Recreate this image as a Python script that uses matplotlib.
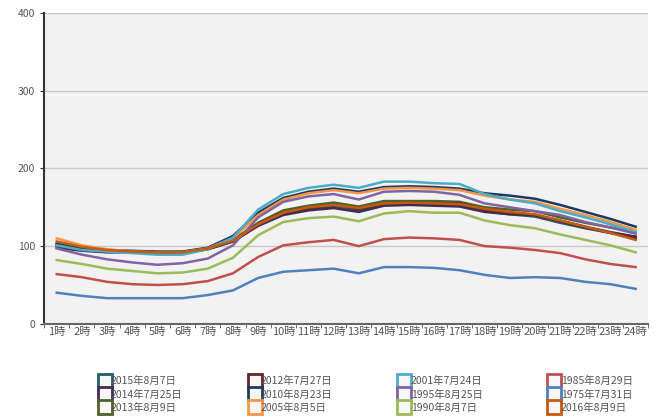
import numpy as np
import matplotlib.pyplot as plt
from matplotlib.lines import Line2D

plt.rcParams['font.family'] = ['Noto Sans CJK JP', 'DejaVu Sans']

# ==========================
# データ
# ==========================
hours = [f"{h}時" for h in range(1, 25)]

s2015 = [102, 96, 94, 93, 92, 91, 96, 106, 127, 142, 148, 150, 146, 153, 154, 153, 152, 145, 141, 138, 130, 123, 117, 112]
s2012 = [100, 95, 93, 93, 92, 92, 97, 108, 128, 143, 149, 153, 148, 155, 156, 155, 155, 147, 143, 140, 132, 124, 117, 110]
s2001 = [101, 95, 93, 91, 89, 89, 96, 111, 147, 167, 175, 179, 175, 183, 183, 181, 180, 167, 160, 155, 145, 137, 128, 118]
s1985 = [64, 60, 54, 51, 50, 51, 55, 65, 86, 101, 105, 108, 100, 109, 111, 110, 108, 100, 98, 95, 91, 83, 77, 73]
s2014 = [98, 94, 92, 92, 91, 91, 96, 106, 126, 140, 146, 149, 144, 152, 153, 152, 151, 144, 141, 140, 133, 125, 118, 112]
s2010 = [103, 97, 95, 94, 93, 93, 98, 113, 143, 162, 170, 174, 170, 176, 177, 176, 174, 168, 165, 161, 153, 144, 135, 125]
s1995 = [97, 89, 83, 79, 76, 78, 84, 101, 137, 157, 164, 167, 160, 170, 171, 170, 166, 155, 150, 145, 140, 131, 124, 116]
s1975 = [40, 36, 33, 33, 33, 33, 37, 43, 59, 67, 69, 71, 65, 73, 73, 72, 69, 63, 59, 60, 59, 54, 51, 45]
s2013 = [103, 97, 94, 93, 92, 92, 97, 108, 130, 146, 152, 156, 151, 158, 158, 158, 157, 150, 147, 145, 137, 130, 124, 118]
s2005 = [110, 101, 96, 93, 92, 92, 97, 110, 140, 160, 168, 172, 168, 174, 175, 174, 172, 165, 160, 157, 148, 140, 131, 121]
s1990 = [82, 77, 71, 68, 65, 66, 71, 85, 114, 131, 136, 138, 132, 142, 145, 143, 143, 133, 127, 123, 115, 108, 101, 92]
s2016 = [106, 99, 95, 93, 92, 92, 97, 107, 128, 143, 150, 153, 149, 155, 156, 155, 154, 148, 144, 141, 133, 125, 117, 108]

series = [
    ("2015年8月7日", s2015, "#215e6c"),
    ("2014年7月25日", s2014, "#3f2d53"),
    ("2013年8月9日", s2013, "#4f6228"),
    ("2012年7月27日", s2012, "#6b2323"),
    ("2010年8月23日", s2010, "#1f3a60"),
    ("2005年8月5日", s2005, "#f79646"),
    ("2001年7月24日", s2001, "#4bacc6"),
    ("1995年8月25日", s1995, "#8064a2"),
    ("1990年8月7日", s1990, "#9bbb59"),
    ("1985年8月29日", s1985, "#c0504d"),
    ("1975年7月31日", s1975, "#4f81bd"),
    ("2016年8月9日", s2016, "#c55a11"),
]

# ==========================
# plot
# ==========================
fig = plt.figure(figsize=(6.69, 4.2), dpi=100)
ax = fig.add_axes([0.066, 0.229, 0.903, 0.740])
ax.set_facecolor("#f2f2f2")

x = np.arange(len(hours))
handles = []
for label, vals, color in series:
    ax.plot(x, vals, color=color, lw=1.8, solid_joinstyle="round")
    handles.append(Line2D([], [], ls="none", marker="s", markersize=9.5,
                          markerfacecolor="#f7f7f7", markeredgecolor=color,
                          markeredgewidth=2, label=label))

ax.set_xlim(-0.5, len(hours) - 0.5)
ax.set_ylim(0, 400)
ax.set_yticks([0, 100, 200, 300, 400])
ax.yaxis.grid(True, color="#c8c8c8", lw=1)
ax.set_axisbelow(True)

ax.set_xticks(x)
ax.set_xticklabels(hours, fontsize=8, color="#555555")
ax.set_xticks(np.arange(len(hours) + 1) - 0.5, minor=True)
ax.tick_params(axis="x", which="major", length=0, pad=2)
ax.tick_params(axis="x", which="minor", length=3, color="#555555")
ax.tick_params(axis="y", labelsize=7.5, labelcolor="#555555", length=3, color="#333333")

for side in ["top", "right"]:
    ax.spines[side].set_visible(False)
ax.spines["left"].set_color("#333333")
ax.spines["left"].set_linewidth(1.5)
ax.spines["bottom"].set_color("#666666")
ax.spines["bottom"].set_linewidth(1.5)

fig.legend(handles=handles, ncol=4, loc="lower center", bbox_to_anchor=(0.548, -0.005),
           frameon=False, fontsize=7.5, handlelength=0.8, handletextpad=0.2,
           columnspacing=6.5, labelspacing=0.3, labelcolor="#555555")

plt.savefig("out.png", dpi=100)
plt.close()
